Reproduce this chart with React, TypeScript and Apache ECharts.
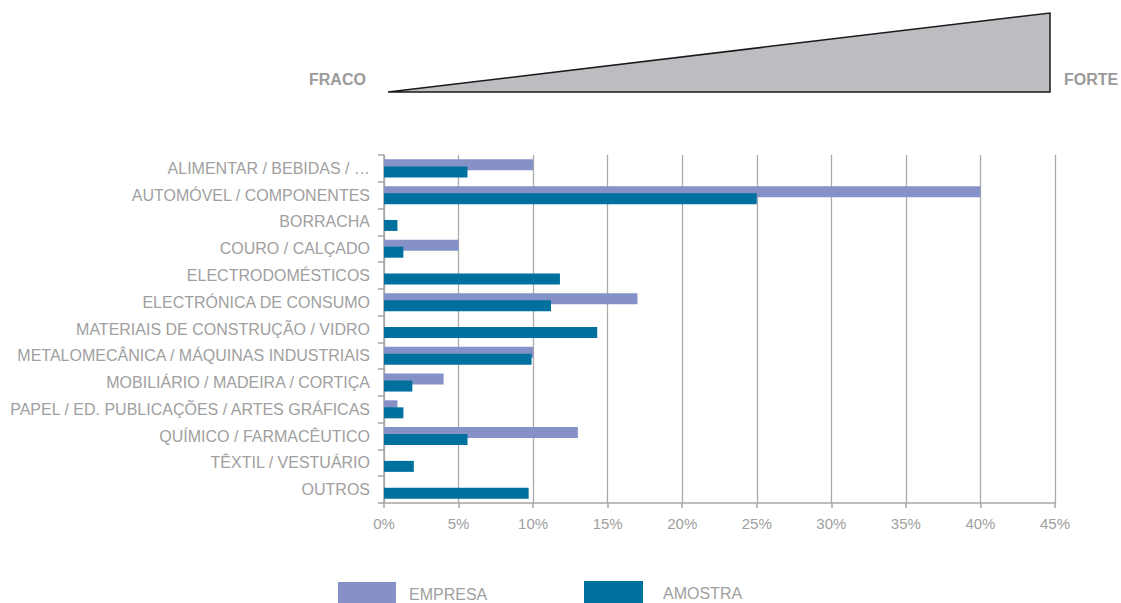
import React, { useEffect, useRef } from "react";
import * as echarts from "echarts";

const categories = [
  "ALIMENTAR / BEBIDAS / …",
  "AUTOMÓVEL / COMPONENTES",
  "BORRACHA",
  "COURO / CALÇADO",
  "ELECTRODOMÉSTICOS",
  "ELECTRÓNICA DE CONSUMO",
  "MATERIAIS DE CONSTRUÇÃO / VIDRO",
  "METALOMECÂNICA / MÁQUINAS INDUSTRIAIS",
  "MOBILIÁRIO / MADEIRA / CORTIÇA",
  "PAPEL / ED. PUBLICAÇÕES / ARTES GRÁFICAS",
  "QUÍMICO / FARMACÊUTICO",
  "TÊXTIL / VESTUÁRIO",
  "OUTROS",
];

const empresa = [10, 40, 0, 5, 0, 17, 0, 10, 4, 0.9, 13, 0, 0];
const amostra = [5.6, 25, 0.9, 1.3, 11.8, 11.2, 14.3, 9.9, 1.9, 1.3, 5.6, 2.0, 9.7];

const xTicks = { min: 0, max: 45, interval: 5 };

const GRAY_TEXT = "#a0a0a0";
const AXIS_GRAY = "#a6a6a6";
const FONT = "'Liberation Sans', Arial, Helvetica, sans-serif";

export default function App() {
  const ref = useRef<HTMLDivElement>(null);

  useEffect(() => {
    document.body.style.margin = "0";
    if (!ref.current) return;
    const chart = echarts.init(ref.current, null, { renderer: "svg" });
    chart.setOption({
      animation: false,
      textStyle: { fontFamily: FONT },
      grid: { left: 384, right: 66, top: 155, bottom: 100, containLabel: false },
      xAxis: {
        type: "value",
        min: xTicks.min,
        max: xTicks.max,
        interval: xTicks.interval,
        axisLine: { show: true, lineStyle: { color: AXIS_GRAY, width: 1.5 } },
        axisTick: { show: true, length: 5, lineStyle: { color: AXIS_GRAY, width: 1.5 } },
        splitLine: { show: true, lineStyle: { color: "#ababab", width: 1.3 } },
        axisLabel: {
          formatter: "{value}%",
          color: GRAY_TEXT,
          fontSize: 15,
          margin: 13,
          fontFamily: FONT,
        },
      },
      yAxis: {
        type: "category",
        data: categories,
        inverse: true,
        axisLine: { show: true, lineStyle: { color: AXIS_GRAY, width: 1.5 } },
        axisTick: { show: true, length: 6, lineStyle: { color: AXIS_GRAY, width: 1.5 } },
        axisLabel: { color: GRAY_TEXT, fontSize: 16, margin: 14, fontFamily: FONT },
      },
      legend: [
        {
          left: 338,
          top: 582,
          padding: 0,
          itemWidth: 58,
          itemHeight: 24,
          icon: "rect",
          data: ["EMPRESA"],
          textStyle: { color: GRAY_TEXT, fontSize: 16, padding: [0, 0, 0, 8], fontFamily: FONT },
        },
        {
          left: 584,
          top: 581,
          padding: 0,
          itemWidth: 59,
          itemHeight: 24,
          icon: "rect",
          data: ["AMOSTRA"],
          textStyle: { color: GRAY_TEXT, fontSize: 16, padding: [0, 0, 0, 15], fontFamily: FONT },
        },
      ],
      graphic: [
        {
          type: "polygon",
          shape: { points: [[388, 92], [1050, 13], [1050, 92]] },
          style: { fill: "#bcbdc0", stroke: "#1a1a1a", lineWidth: 1.5 },
        },
        {
          type: "text",
          x: 309,
          y: 79,
          style: {
            text: "FRACO",
            fill: "#9a9a9a",
            font: "bold 16px 'Liberation Sans Narrow', 'Liberation Sans', Arial, sans-serif",
            textVerticalAlign: "middle",
          },
        },
        {
          type: "text",
          x: 1064,
          y: 79,
          style: {
            text: "FORTE",
            fill: "#9a9a9a",
            font: "bold 16px 'Liberation Sans Narrow', 'Liberation Sans', Arial, sans-serif",
            textVerticalAlign: "middle",
          },
        },
      ],
      series: [
        {
          name: "EMPRESA",
          type: "bar",
          data: empresa,
          barWidth: 11,
          barGap: "-36%",
          itemStyle: { color: "#8591c7" },
        },
        {
          name: "AMOSTRA",
          type: "bar",
          data: amostra,
          barWidth: 11,
          barGap: "-36%",
          itemStyle: { color: "#00719e" },
        },
      ],
    });
    return () => chart.dispose();
  }, []);

  return <div ref={ref} style={{ width: 1121, height: 603 }} />;
}
